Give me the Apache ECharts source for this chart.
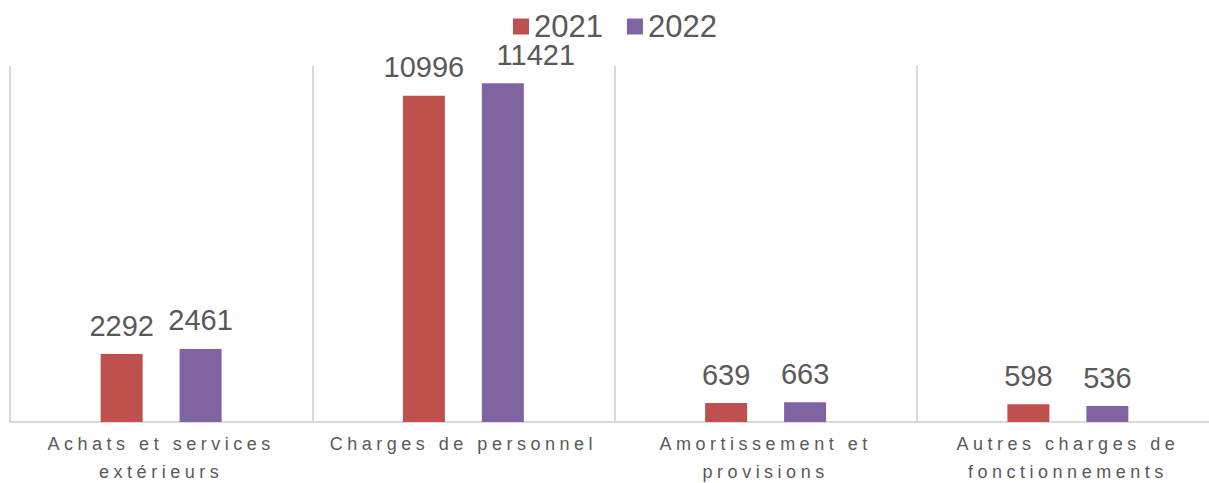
<!DOCTYPE html>
<html>
<head>
<meta charset="utf-8">
<script src="https://cdn.jsdelivr.net/npm/echarts@6/dist/echarts.min.js"></script>
<style>
  html, body { margin: 0; padding: 0; background: #fff; }
  #main { width: 1209px; height: 483px; }
  /* étiquettes de l'axe des catégories : texte espacé */
  #main text[style*="18px"] { letter-spacing: 4.5px; }
</style>
</head>
<body>
<div id="main"></div>
<script>
// catégories (retour à la ligne comme sur l'original)
var categories = [
  'Achats et services\nextérieurs',
  'Charges de personnel',
  'Amortissement et\nprovisions',
  'Autres charges de\nfonctionnements'
];
var seriesNames = ['2021', '2022'];
var values2021 = [2292, 10996, 639, 598];
var values2022 = [2461, 11421, 663, 536];

var chart = echarts.init(document.getElementById('main'), null, { renderer: 'svg' });

var labelStyle = {
  show: true,
  position: 'top',
  distance: 14,
  fontSize: 29,
  color: '#595959',
  fontFamily: 'Liberation Sans, Arial'
};

// l'étiquette 11421 est décalée à droite sur l'original pour ne pas chevaucher 10996
var data2022 = values2022.map(function (v, i) {
  return i === 1 ? { value: v, label: { offset: [33, 0] } } : v;
});

chart.setOption({
  animation: false,
  textStyle: { fontFamily: 'Liberation Sans, Arial' },
  legend: {
    data: seriesNames,
    left: 508,
    top: 6,
    itemWidth: 16,
    itemHeight: 16,
    itemGap: 24,
    icon: 'rect',
    textStyle: { fontSize: 31, color: '#595959' }
  },
  grid: {
    left: 10, top: 66, width: 1209, height: 356,
    outerBoundsMode: 'none',
    containLabel: false
  },
  xAxis: {
    type: 'category',
    data: categories,
    axisLine: { lineStyle: { color: '#d9d9d9', width: 2 } },
    axisTick: { show: false },
    splitLine: { show: true, interval: 0, lineStyle: { color: '#d9d9d9', width: 2 } },
    axisLabel: {
      interval: 0,
      fontSize: 18,
      color: '#595959',
      lineHeight: 28,
      margin: 8
    }
  },
  yAxis: {
    type: 'value',
    min: 0,
    max: 12000,
    show: false,
    splitLine: { show: false }
  },
  series: [
    {
      name: seriesNames[0],
      type: 'bar',
      data: values2021,
      barWidth: 42,
      barGap: '88%',
      itemStyle: { color: '#C0504D' },
      label: labelStyle
    },
    {
      name: seriesNames[1],
      type: 'bar',
      data: data2022,
      barWidth: 42,
      itemStyle: { color: '#8064A2' },
      label: labelStyle
    }
  ]
});
</script>
</body>
</html>
